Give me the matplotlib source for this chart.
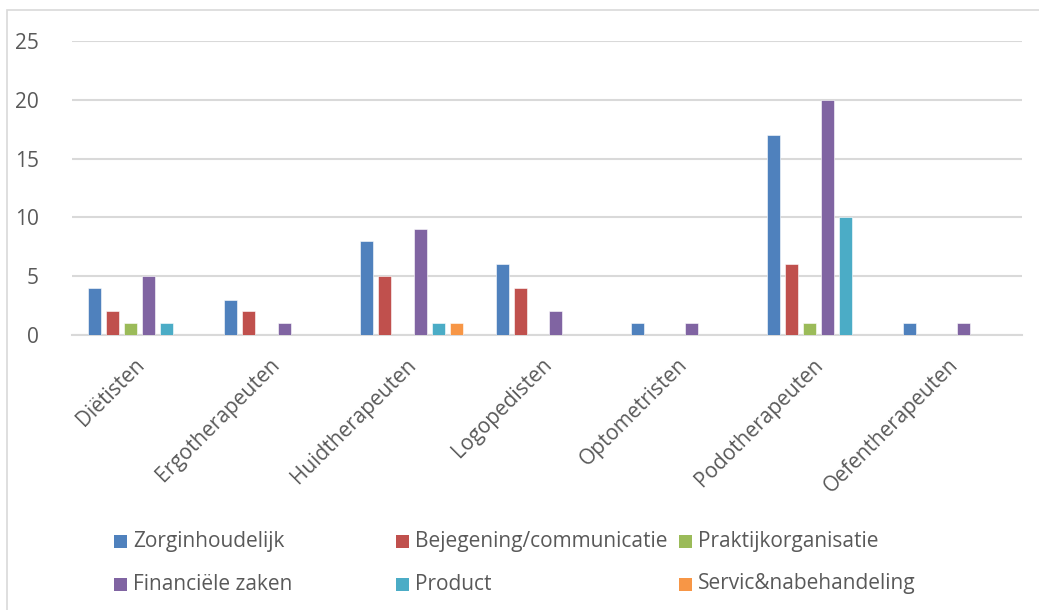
import matplotlib
matplotlib.use("Agg")
import matplotlib.pyplot as plt
from matplotlib.patches import Rectangle
from matplotlib.transforms import ScaledTranslation
import numpy as np

categories = ["Diëtisten", "Ergotherapeuten", "Huidtherapeuten", "Logopedisten",
              "Optometristen", "Podotherapeuten", "Oefentherapeuten"]
series_names = ["Zorginhoudelijk", "Bejegening/communicatie", "Praktijkorganisatie",
                "Financiële zaken", "Product", "Servic&nabehandeling"]
zorginhoudelijk = [4, 3, 8, 6, 1, 17, 1]
bejegening = [2, 2, 5, 4, 0, 6, 0]
praktijk = [1, 0, 0, 0, 0, 1, 0]
financieel = [5, 1, 9, 2, 1, 20, 1]
product = [1, 0, 1, 0, 0, 10, 0]
service = [0, 0, 1, 0, 0, 0, 0]
series_values = [zorginhoudelijk, bejegening, praktijk, financieel, product, service]
colors = ["#4F81BD", "#C0504D", "#9BBB59", "#8064A2", "#4BACC6", "#F79646"]
yticks = [0, 5, 10, 15, 20, 25]

W, H = 1039, 610
plt.rcParams['font.family'] = ['Open Sans', 'DejaVu Sans']
fig = plt.figure(figsize=(W / 100, H / 100), dpi=100)
txt = "#595959"
grid = "#D9D9D9"
fs = 15

# chart border
fig.patches.append(Rectangle((7 / W, -0.01), 1.1, 1 - 10 / H + 0.01, transform=fig.transFigure,
                             fill=False, edgecolor=grid, linewidth=1.2))

ax = fig.add_axes([72 / W, 1 - 335 / H, (1022 - 72) / W, (335 - 41) / H])
x = np.arange(len(categories))
pitch = 18 / 136
bw = 13 / 136
n = len(series_values)
for j, (vals, c) in enumerate(zip(series_values, colors)):
    ax.bar(x + (j - (n - 1) / 2) * pitch, vals, width=bw, color=c,
           edgecolor="#FFFFFF", linewidth=0.4, zorder=3)

ax.set_xlim(-0.5, len(categories) - 0.5)
ax.set_ylim(0, 25)
ax.set_yticks(yticks)
ax.set_yticklabels([str(v) for v in yticks])
ax.yaxis.grid(True, color=grid, linewidth=1.5, zorder=0)
ax.set_axisbelow(True)
for s in ["top", "right", "left"]:
    ax.spines[s].set_visible(False)
ax.spines["bottom"].set_color(grid)
ax.spines["bottom"].set_linewidth(1.5)
ax.tick_params(axis="y", length=0, pad=24, labelsize=fs, labelcolor=txt)
ax.tick_params(axis="x", length=0, pad=14, labelsize=fs, labelcolor=txt)
ax.set_xticks(x)
ax.set_xticklabels(categories, rotation=45, ha="right", va="top", rotation_mode="anchor")
shift = ScaledTranslation(-6 / 100, 0, fig.dpi_scale_trans)
for lab in ax.get_xticklabels():
    lab.set_transform(lab.get_transform() + shift)

# legend (manual, Excel style)
col_x = [114, 396, 679]
row_y = [541, 584]
for i, (name, c) in enumerate(zip(series_names, colors)):
    r, cidx = divmod(i, 3)
    px, py = col_x[cidx], row_y[r]
    fig.patches.append(Rectangle((px / W, 1 - (py + 7) / H), 13 / W, 13 / H,
                                 transform=fig.transFigure, facecolor=c, edgecolor="none"))
    fig.text((px + 19) / W, 1 - py / H, name, color=txt, fontsize=fs, va="center", ha="left")

fig.savefig("out.png", dpi=100)
